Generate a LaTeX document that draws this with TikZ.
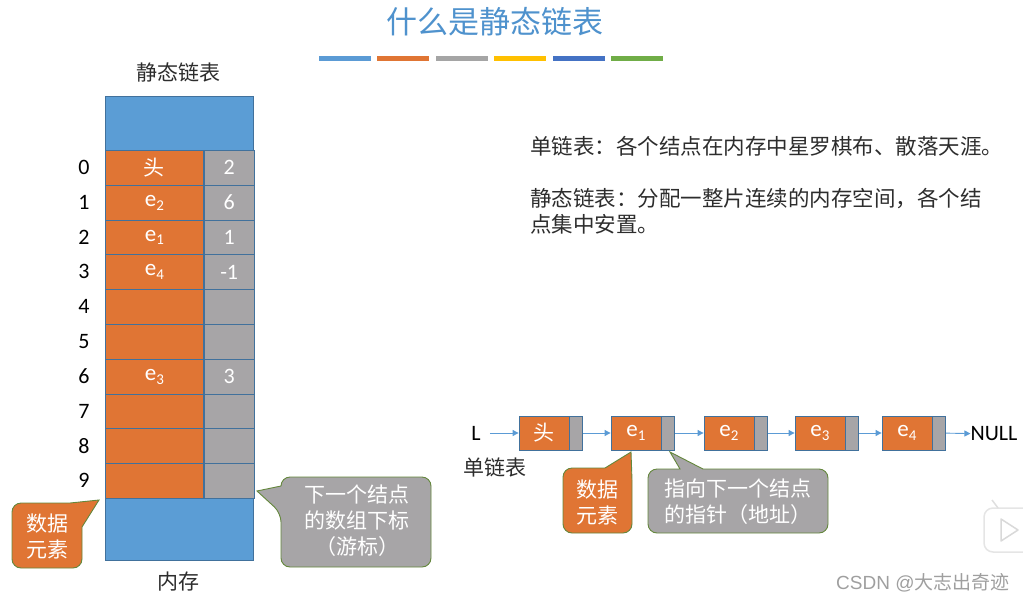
\documentclass[tikz,border=0pt]{standalone}
\usepackage{fontspec}
\setmainfont{Carlito}
\newfontfamily\cjk{Noto Sans CJK SC}
\newfontfamily\wmfont{Liberation Sans}
\usetikzlibrary{arrows.meta,positioning}

\definecolor{titleblue}{RGB}{79,146,205}
\definecolor{memblue}{RGB}{91,157,213}
\definecolor{dataorange}{RGB}{224,117,52}
\definecolor{linkgray}{RGB}{167,165,167}
\definecolor{cellline}{RGB}{65,113,156}
\definecolor{calloutline}{RGB}{100,135,60}
\definecolor{arrowblue}{RGB}{91,155,213}
\definecolor{textdark}{RGB}{45,45,45}
\definecolor{barblue}{RGB}{91,155,213}
\definecolor{barorange}{RGB}{224,117,52}
\definecolor{bargray}{RGB}{165,165,165}
\definecolor{baryellow}{RGB}{255,192,0}
\definecolor{bardarkblue}{RGB}{68,114,196}
\definecolor{bargreen}{RGB}{112,173,71}

\newcommand{\lsub}[1]{\raisebox{-0.35ex}{\fontsize{15}{15}\selectfont #1}}

\tikzset{
  txt/.style={font=\fontsize{22}{26}\selectfont, text=textdark, inner sep=0pt},
  cjktxt/.style={font=\fontsize{21}{26}\selectfont\cjk, text=textdark, inner sep=0pt},
  memblock/.style={draw=cellline, fill=memblue, line width=0.8pt, minimum width=148pt, inner sep=0pt, anchor=north west},
  datacell/.style={draw=cellline, fill=dataorange, line width=0.8pt, minimum width=98pt, minimum height=34.8pt, inner sep=0pt, text=white, font=\fontsize{23}{26}\selectfont},
  linkcell/.style={draw=cellline, fill=linkgray, line width=0.8pt, minimum width=50pt, minimum height=34.8pt, inner sep=0pt, text=white, font=\fontsize{22}{26}\selectfont},
  listdata/.style={datacell, minimum width=50pt, minimum height=34pt},
  listlink/.style={linkcell, minimum width=13pt, minimum height=34pt},
  link/.style={draw=arrowblue, line width=0.9pt, -{Triangle[length=6pt,width=6pt]}},
  callout/.style={draw=calloutline, line width=0.9pt},
  calltext/.style={cjktxt, text=white, align=center},
}

\begin{document}
\begin{tikzpicture}[x=1pt,y=-1pt]
\useasboundingbox (0,0) rectangle (1023,603);

% Title
\node[font=\fontsize{31}{31}\selectfont\cjk, text=titleblue] (title) at (495,22) {什么是静态链表};

% Colour bars
\foreach \c [count=\k from 0] in {barblue,barorange,bargray,baryellow,bardarkblue,bargreen}
  \fill[\c] ({319+58.4*\k},55.5) rectangle +(52,5.5);

% Static list in memory
\node[cjktxt] (memtitle) at (178,72) {静态链表};
\node[memblock, minimum height=54pt] (memtop) at (105,96) {};
\foreach \i/\e/\n in {0/{\cjk\fontsize{21}{26}\selectfont 头}/2, 1/e\lsub{2}/6, 2/e\lsub{1}/1, 3/e\lsub{4}/-1, 4/{}/{},
                      5/{}/{}, 6/e\lsub{3}/3, 7/{}/{}, 8/{}/{}, 9/{}/{}} {
  \node[datacell, anchor=north west] (d\i) at (105,{150+34.8*\i}) {\e};
  \node[linkcell, anchor=west] (c\i) at (d\i.east) {\n};
  \node[txt, text=black] (i\i) at (84,{167.4+34.8*\i}) {\i};
}
\node[memblock, minimum height=62pt] (membot) at (105,498) {};
\node[cjktxt] (memlabel) at (178,582) {内存};

% Callout: data element
\filldraw[callout, fill=dataorange, rounded corners=9pt] (12,535) -- (12,503) [sharp corners] -- (70,503) -- (99,500) -- (82,527) [rounded corners=9pt] -- (82,568) -- (12,568) -- cycle;
\node[calltext] (datanote) at (47,536) {数据\\元素};

% Callout: cursor
\filldraw[callout, fill=linkgray, rounded corners=9pt] (281,540) -- (281,513) [sharp corners] -- (257,491) -- (281,486) [rounded corners=9pt] -- (281,477) -- (431,477) -- (431,567) -- (281,567) -- cycle;
\node[calltext] (cursornote) at (357,521) {下一个结点\\的数组下标\\（游标）};

% Explanation
\node[cjktxt, font=\fontsize{21.5}{26}\selectfont\cjk, anchor=west] (single) at (530,146) {单链表：各个结点在内存中星罗棋布、散落天涯。};
\node[cjktxt, font=\fontsize{21.5}{26}\selectfont\cjk, anchor=west, align=left] (static) at (530,211) {静态链表：分配一整片连续的内存空间，各个结\\点集中安置。};

% Singly linked list
\node[txt, text=black] (L) at (476,433) {L};
\foreach \i/\x/\e in {0/544/{\cjk\fontsize{21}{26}\selectfont 头}, 1/636/e\lsub{1}, 2/729/e\lsub{2}, 3/820/e\lsub{3}, 4/907/e\lsub{4}} {
  \node[listdata] (n\i) at (\x,433) {\e};
  \node[listlink, right=0pt of n\i] (m\i) {};
}
\node[txt, text=black] (null) at (994,434) {NULL};
\draw[link] ([xshift=9pt]L.east) -- (n0);
\foreach \i [evaluate=\i as \j using int(\i+1)] in {0,...,3}
  \draw[link] (m\i) -- (n\j);
\draw[link] (m4) -- (null);
\node[cjktxt] (singlelabel) at (495,467) {单链表};

% Callouts for the list node
\filldraw[callout, fill=dataorange, rounded corners=9pt] (563,500) -- (563,468) [sharp corners] -- (605,468) -- (631,452) -- (632,480) [rounded corners=9pt] -- (632,533) -- (563,533) -- cycle;
\node[calltext] (elemnote) at (597,502) {数据\\元素};
\filldraw[callout, fill=linkgray, rounded corners=9pt] (648,500) -- (648,469) [sharp corners] -- (680,469) -- (670,452) -- (703,469) [rounded corners=9pt] -- (828,469) -- (828,533) -- (648,533) -- cycle;
\node[calltext] (ptrnote) at (738,502) {指向下一个结点\\的指针（地址）};

% Watermark
\node[font=\fontsize{19}{19}\selectfont\wmfont, text=gray!75, anchor=west, inner sep=0pt] (mark) at (836,583) {CSDN @{\cjk 大志出奇迹}};

% Player badge
\filldraw[draw=gray!20, fill=white, line width=1.5pt, rounded corners=9pt] (984,508) rectangle (1040,552);
\draw[gray!25, line width=1.5pt] (992,500) -- (998,508);
\draw[gray!30, line width=1.5pt, line join=round] (1001,519) -- (1001,541) -- (1018,530) -- cycle;

\end{tikzpicture}
\end{document}
